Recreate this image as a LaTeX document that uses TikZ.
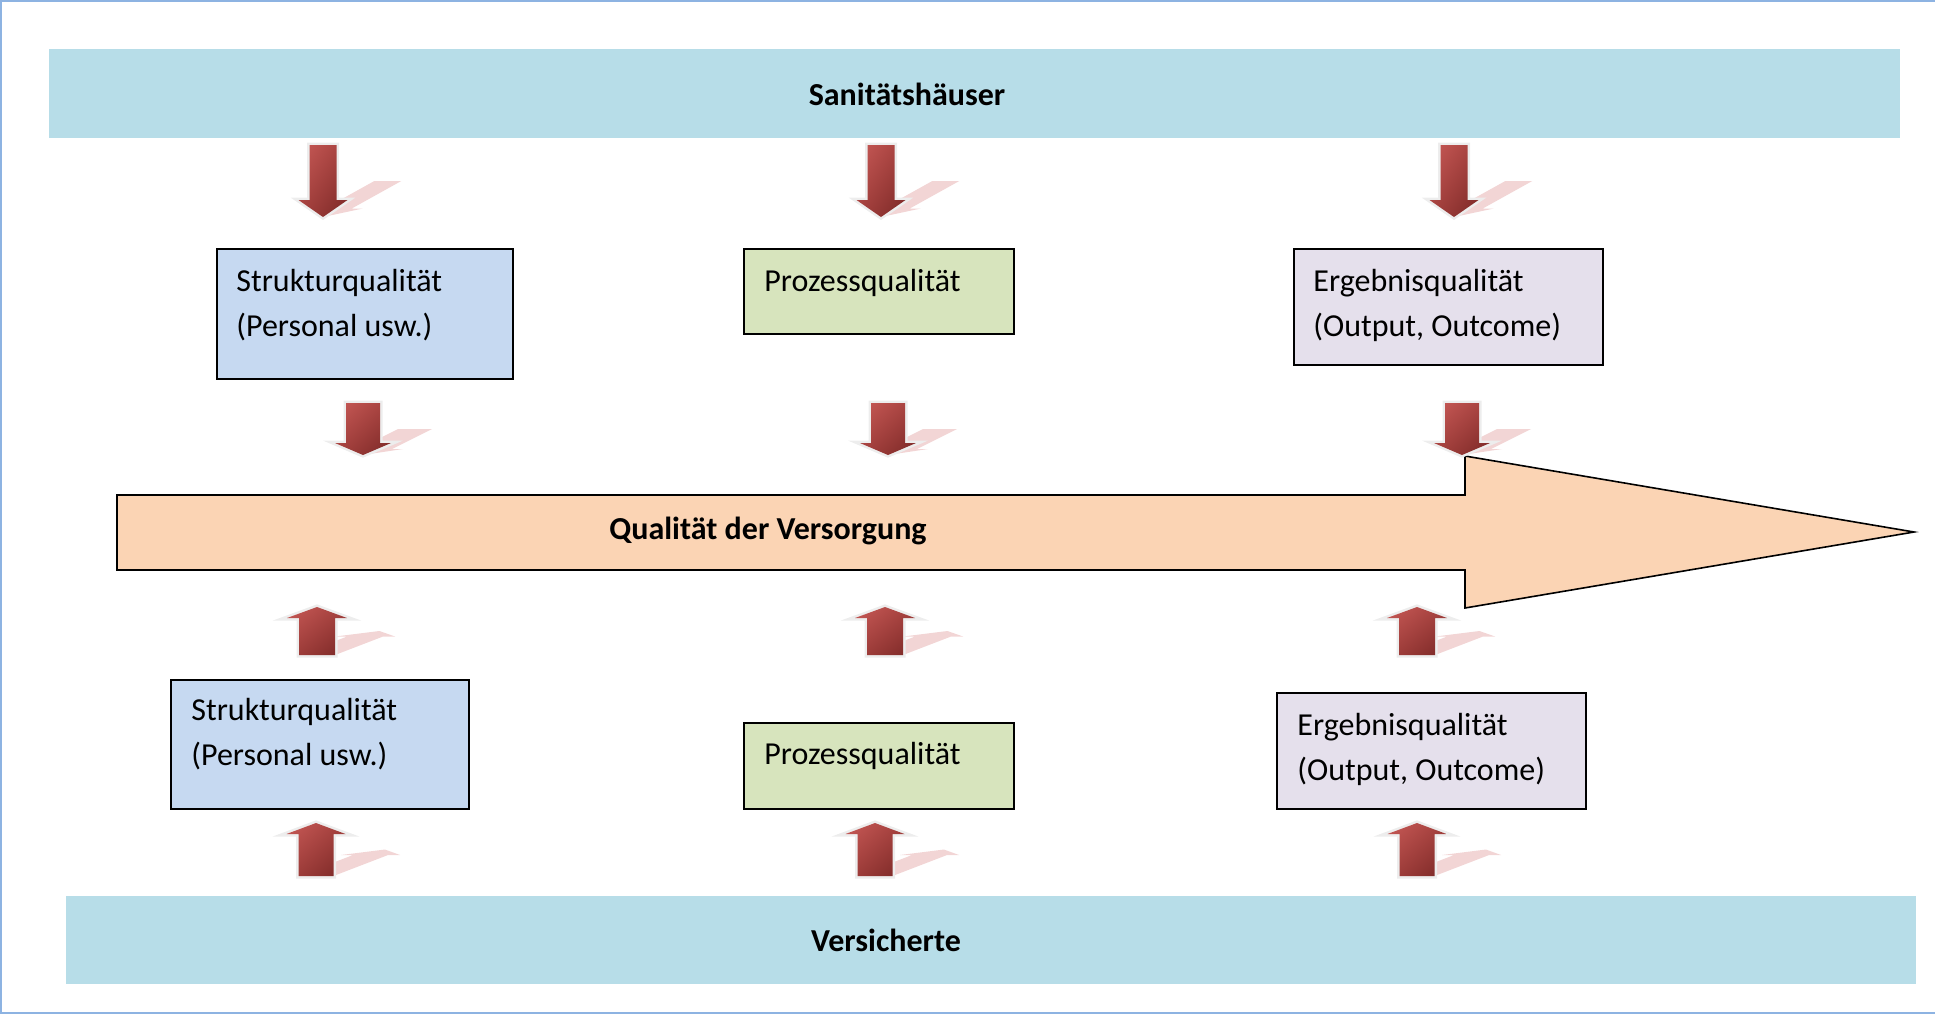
\documentclass[tikz,border=0pt]{standalone}
\usepackage{fontspec}
\setmainfont{Carlito}
\usetikzlibrary{calc,positioning,shadings}

\definecolor{bandblue}{HTML}{B7DDE8}
\definecolor{boxblue}{HTML}{C6D9F1}
\definecolor{boxgreen}{HTML}{D7E4BD}
\definecolor{boxlilac}{HTML}{E5E0EC}
\definecolor{arrowpeach}{HTML}{FBD4B4}
\definecolor{frameblue}{HTML}{8DB3E2}
\definecolor{redlight}{HTML}{C85A57}
\definecolor{redmid}{HTML}{A4403D}
\definecolor{reddark}{HTML}{7A2826}
\definecolor{shadowpink}{HTML}{F2D5D5}

\tikzset{
  band/.style={fill=bandblue, inner sep=0pt, anchor=north west},
  qbox/.style={draw=black, line width=1pt, inner sep=0pt, anchor=north west},
  qtext/.style={font=\fontsize{16}{22.5}\selectfont, align=left, anchor=base west, inner sep=0pt},
  btext/.style={font=\fontsize{16}{20}\selectfont\bfseries, inner sep=0pt},
  glow/.style={draw=black!7, line width=2.5pt},
}

% block arrow: x, base, neck, tip, shaft half width, head half width, shadow pivot, shadow slant
\newcommand{\qarrow}[8]{%
  \begin{scope}[shift={(#1,#7)}, cm={1,0,#8,0.5,(0,0)}, shift={(-#1,-#7)}]
    \fill[shadowpink] (#1-#5,#2) -- (#1-#5,#3) -- (#1-#6,#3) -- (#1,#4) -- (#1+#6,#3) -- (#1+#5,#3) -- (#1+#5,#2) -- cycle;
  \end{scope}
  \draw[glow] (#1-#5,#2) -- (#1-#5,#3) -- (#1-#6,#3) -- (#1,#4) -- (#1+#6,#3) -- (#1+#5,#3) -- (#1+#5,#2) -- cycle;
  \shade[upper left=redlight, upper right=redmid, lower left=redmid, lower right=reddark]
    (#1-#5,#2) -- (#1-#5,#3) -- (#1-#6,#3) -- (#1,#4) -- (#1+#6,#3) -- (#1+#5,#3) -- (#1+#5,#2) -- cycle;
}

\begin{document}
\begin{tikzpicture}[x=0.5pt, y=-0.5pt, line join=miter]
    \useasboundingbox (0,0) rectangle (1935,1014);
    \draw[frameblue, line width=1pt] (1935,1) -- (1,1) -- (1,1013) -- (1935,1013);

    % bands
    \node[band, minimum width=925.5pt, minimum height=44.5pt] (san) at (49,49) {};
    \node[btext] (santxt) at (907,94) {Sanitätshäuser};
    \node[band, minimum width=925pt, minimum height=44pt] (vers) at (66,896) {};
    \node[btext] (verstxt) at (886,940) {Versicherte};

    % upper boxes (base = last line)
    \node[qbox, fill=boxblue, minimum width=148pt, minimum height=65pt] (struktop) at (216,248) {};
    \node[qtext] (struktoptxt) at (236,336) {Strukturqualität\\(Personal usw.)};
    \node[qbox, fill=boxgreen, minimum width=135pt, minimum height=42.5pt] (proztop) at (743,248) {};
    \node[qtext] (proztoptxt) at (764,291) {Prozessqualität};
    \node[qbox, fill=boxlilac, minimum width=154.5pt, minimum height=58pt] (ergtop) at (1293,248) {};
    \node[qtext] (ergtoptxt) at (1313,336) {Ergebnisqualität\\(Output, Outcome)};

    % lower boxes
    \node[qbox, fill=boxblue, minimum width=149pt, minimum height=64.5pt] (strukbot) at (170,679) {};
    \node[qtext] (strukbottxt) at (191,765) {Strukturqualität\\(Personal usw.)};
    \node[qbox, fill=boxgreen, minimum width=135pt, minimum height=43pt] (prozbot) at (743,722) {};
    \node[qtext] (prozbottxt) at (764,764) {Prozessqualität};
    \node[qbox, fill=boxlilac, minimum width=154.5pt, minimum height=58pt] (ergbot) at (1276,692) {};
    \node[qtext] (ergbottxt) at (1297,780) {Ergebnisqualität\\(Output, Outcome)};

    % big arrow
    \draw[fill=arrowpeach, line width=0.8pt] (117,495) -- (1465,495) -- (1465,456) -- (1914,532)
      -- (1465,608) -- (1465,570) -- (117,570) -- cycle;
    \node[btext] (qual) at (768,531) {Qualität der Versorgung};

    % small arrows
    \foreach \cx in {323,881,1454} {\qarrow{\cx}{145}{200}{217}{13.5}{24.5}{217}{0.9}}
    \foreach \cx in {363,888,1462} {\qarrow{\cx}{403}{443}{455}{17}{28}{455}{1.0}}
    \foreach \cx in {317,885,1417} {\qarrow{\cx}{655}{618}{607}{18}{30}{655}{1.3}}
    \foreach \cx in {316,875,1417} {\qarrow{\cx}{876}{834}{823}{17.5}{29.5}{876}{1.3}}
\end{tikzpicture}
\end{document}
